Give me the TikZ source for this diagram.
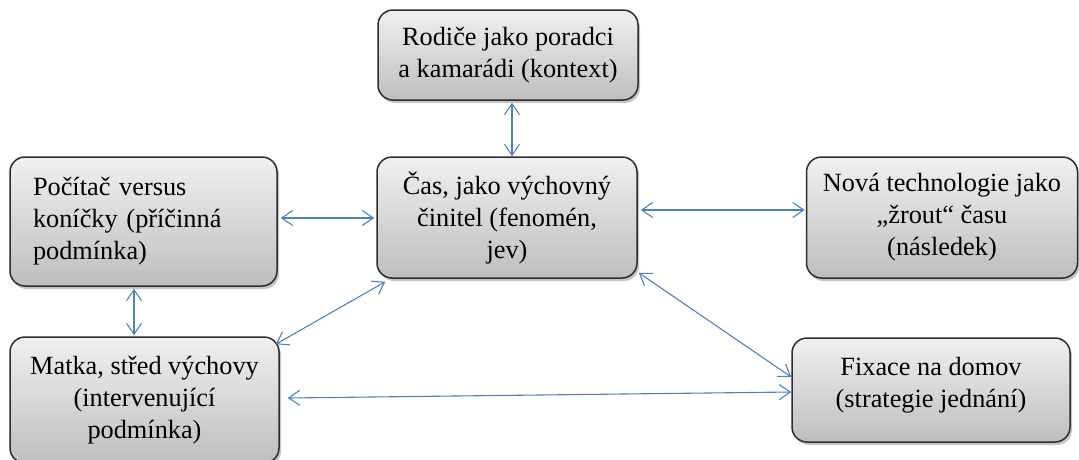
\documentclass[tikz,border=0pt]{standalone}
\usepackage{fontspec}
\setmainfont{Liberation Serif}
\usetikzlibrary{arrows.meta,shadows,fadings}
\definecolor{linkblue}{RGB}{79,129,189}
\definecolor{boxtop}{RGB}{240,240,240}
\definecolor{boxbot}{RGB}{190,190,190}
\definecolor{boxline}{RGB}{45,45,45}
\tikzset{
  card/.style={draw=boxline, line width=1.5pt, rounded corners=15pt,
    top color=boxtop, bottom color=boxbot,
    drop shadow={shadow xshift=2pt, shadow yshift=-3pt, opacity=0.45},
    font=\fontsize{26.3}{32}\selectfont, inner sep=0pt},
  link/.style={draw=linkblue, line width=1.1pt,
    {Straight Barb[length=11pt,width=15pt]}-{Straight Barb[length=11pt,width=15pt]}}
}
\begin{document}
\begin{tikzpicture}[x=1pt,y=-1pt]
\useasboundingbox (0,0) rectangle (1079,459);
\clip (0,0) rectangle (1079,459);
\fill[white] (0,0) rectangle (1079,459);

% boxes
\node[card, minimum width=260pt, minimum height=90pt, align=center] (rod) at (508,55)
  {Rodiče jako poradci\\a kamarádi (kontext)};
\node[card, minimum width=260pt, minimum height=121pt, align=center] (cas) at (507,217.5)
  {Čas, jako výchovný\\činitel (fenomén,\\jev)};
\node[card, minimum width=267pt, minimum height=129pt, align=left, text width=221pt] (poc) at (143.5,221.5)
  {Počítač versus\\koníčky (příčinná\\podmínka)};
\node[card, minimum width=271pt, minimum height=121pt, align=center] (nov) at (942,217.5)
  {Nová technologie jako\\„žrout“ času\\(následek)};
\node[card, minimum width=269pt, minimum height=126pt, align=center] (mat) at (144.5,400)
  {Matka, střed výchovy\\(intervenující\\podmínka)};
% the empty last row lifts the two lines towards the top of the box
\node[card, minimum width=278pt, minimum height=104pt, align=center] (fix) at (931,390)
  {Fixace na domov\\(strategie jednání)\\[-16pt]\mbox{}};

% connectors
\draw[link] ([xshift=4pt,yshift=-2pt]rod.south) -- ([xshift=5pt]cas.north);
\draw[link] ([xshift=3pt,yshift=3.5pt]poc.east) -- ([xshift=-2pt,yshift=-0.5pt]cas.west);
\draw[link] ([xshift=3pt,yshift=7.5pt]cas.east) -- ([xshift=-1pt,yshift=7.5pt]nov.west);
\draw[link] ([xshift=-9.5pt,yshift=-2pt]poc.south) -- ([xshift=-10.5pt,yshift=1pt]mat.north);
\draw[link] ([xshift=9pt,yshift=-3pt]cas.south west) -- ([xshift=-4pt,yshift=-8pt]mat.north east);
\draw[link] ([xshift=1pt,yshift=6pt]cas.south east) -- ([yshift=13pt]fix.west);
\draw[link] ([xshift=8pt,yshift=2pt]mat.east) -- ([yshift=-2pt]fix.west);
\end{tikzpicture}
\end{document}
